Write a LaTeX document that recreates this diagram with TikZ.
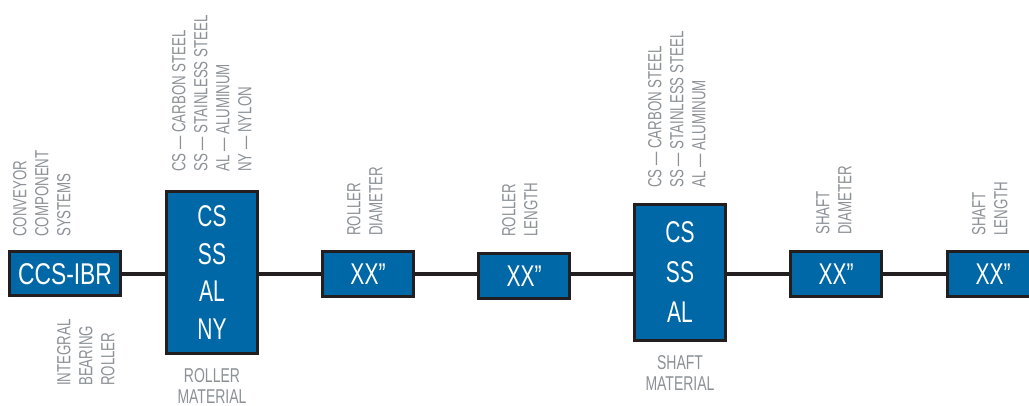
\documentclass[tikz,border=0pt]{standalone}
\usepackage{fontspec}
\setmainfont[FakeStretch=0.76]{Liberation Sans}
\newfontfamily\boxfont[FakeStretch=0.7]{Liberation Sans}
\usetikzlibrary{positioning,backgrounds}
\definecolor{codeblue}{RGB}{0,104,166}
\definecolor{edgedark}{RGB}{35,31,32}
\definecolor{labelgray}{RGB}{140,145,151}
\tikzset{
  codebox/.style={rectangle,draw=edgedark,fill=codeblue,line width=3pt,text=white,align=center,inner sep=0pt,minimum width=91pt,minimum height=45pt,font=\boxfont\fontsize{30}{36}\selectfont},
  stackbox/.style={codebox,font=\boxfont\fontsize{30}{37.5}\selectfont},
  sidelabel/.style={rotate=90,anchor=north west,align=left,inner sep=0pt,text=labelgray,font=\boxfont\fontsize{19}{22}\selectfont},
  footlabel/.style={align=center,inner sep=0pt,text=labelgray,font=\boxfont\fontsize{20}{21.5}\selectfont},
  link/.style={line width=4pt,color=edgedark}
}
\begin{document}
\begin{tikzpicture}[x=1pt,y=-1pt]
  \useasboundingbox (0,0) rectangle (1029,406);
  %% Code boxes
  \node[codebox,minimum width=111pt,minimum height=44pt,font=\fontsize{30}{36}\selectfont] (ccs) at (65,274) {CCS-IBR};
  \node[stackbox,minimum height=162pt] (rmat) at (212,272.5) {CS\\SS\\AL\\NY};
  \node[codebox] (rdia) at (368,274) {XX”};
  \node[codebox] (rlen) at (524,276.5) {XX”};
  \node[stackbox,minimum height=136pt,font=\boxfont\fontsize{30}{40}\selectfont] (smat) at (680,272.5) {CS\\SS\\AL};
  \node[codebox] (sdia) at (836,274) {XX”};
  \node[codebox] (slen) at (993,274) {XX”};

  %% Connector
  \begin{scope}[on background layer]
    \draw[link] (ccs) -- (slen);
  \end{scope}

  %% Labels
  \node[sidelabel] (convlbl) at (13,237) {CONVEYOR\\COMPONENT\\SYSTEMS};
  \node[sidelabel] (ibrlbl) at (57,386) {INTEGRAL\\BEARING\\ROLLER};
  \node[sidelabel] (rmatopts) at (172,172) {CS — CARBON STEEL\\SS — STAINLESS STEEL\\AL — ALUMINUM\\NY — NYLON};
  \node[sidelabel] (rdialbl) at (347,236) {ROLLER\\DIAMETER};
  \node[sidelabel] (rlenlbl) at (502,237) {ROLLER\\LENGTH};
  \node[sidelabel] (smatopts) at (648,188) {CS — CARBON STEEL\\SS — STAINLESS STEEL\\AL — ALUMINUM};
  \node[sidelabel] (sdialbl) at (816,235) {SHAFT\\DIAMETER};
  \node[sidelabel] (slenlbl) at (972,236) {SHAFT\\LENGTH};
  \node[footlabel,below=13pt of rmat] (rmatlbl) {ROLLER\\MATERIAL};
  \node[footlabel,below=13pt of smat] (smatlbl) {SHAFT\\MATERIAL};
\end{tikzpicture}
\end{document}
